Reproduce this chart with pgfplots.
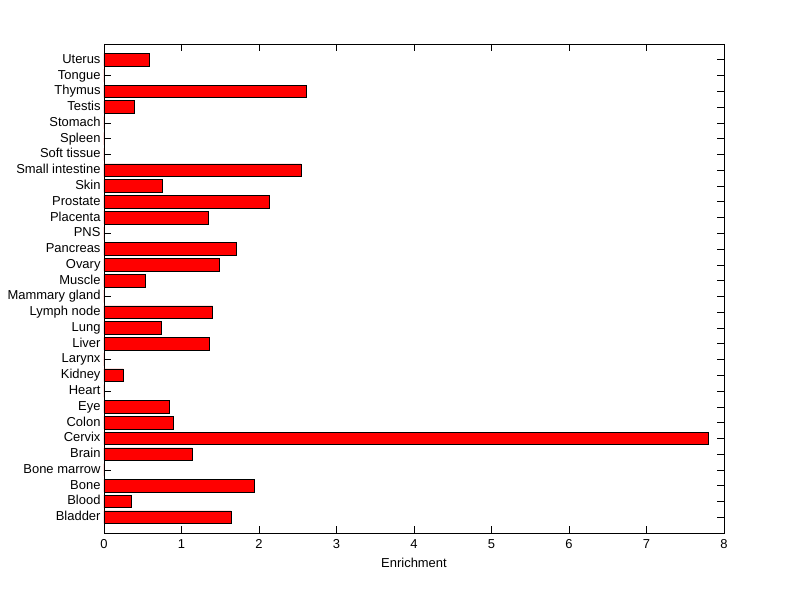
\documentclass[border=0pt]{standalone}
\usepackage{fontspec}
\setmainfont{Liberation Sans}
\usepackage{pgfplots}
\pgfplotsset{compat=1.18}
\begin{document}
\begin{tikzpicture}[x=1bp,y=1bp]
\begin{axis}[
  scale only axis,
  width=620bp, height=489bp,
  xmin=0, xmax=8, ymin=-1, ymax=30,
  xbar, bar width=0.8,
  xtick={0,1,...,8},
  ytick={0,1,...,29},
  yticklabels={Bladder,Blood,Bone,Bone marrow,Brain,Cervix,Colon,Eye,Heart,Kidney,Larynx,Liver,Lung,Lymph node,Mammary gland,Muscle,Ovary,Pancreas,PNS,Placenta,Prostate,Skin,Small intestine,Soft tissue,Spleen,Stomach,Testis,Thymus,Tongue,Uterus},
  tick align=inside,
  major tick length=7bp,
  tick style={black, line width=0.6bp},
  axis line style={line width=0.8bp},
  ticklabel style={font=\fontsize{13}{15}\selectfont},
  /pgf/number format/assume math mode=true,
  xlabel={Enrichment},
  xlabel style={font=\fontsize{13}{15}\selectfont, yshift=-3bp},
  yticklabel style={xshift=0bp, text height=9.5bp, text depth=2.5bp},
  xticklabel style={yshift=-3bp},
]
\addplot[fill=red, draw=black, line width=0.6bp] coordinates {
(1.64,0) (0.35,1) (1.94,2) (0,3) (1.14,4) (7.80,5) (0.89,6) (0.84,7) (0,8) (0.25,9)
(0,10) (1.36,11) (0.74,12) (1.40,13) (0,14) (0.53,15) (1.49,16) (1.71,17) (0,18) (1.35,19)
(2.13,20) (0.75,21) (2.54,22) (0,23) (0,24) (0,25) (0.39,26) (2.61,27) (0,28) (0.58,29)
};
\end{axis}
\path (current axis.south west) ++(-104bp,-66bp) coordinate (bbA);
\path (current axis.north east) ++(76bp,44bp) coordinate (bbB);
\path (bbA) rectangle (bbB);
\end{tikzpicture}
\end{document}
